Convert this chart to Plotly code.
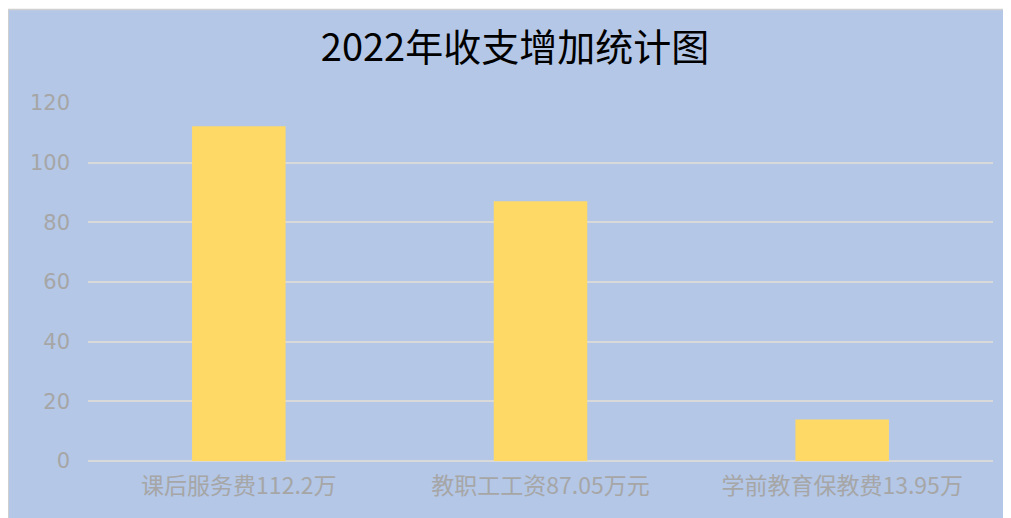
import plotly.graph_objects as go

categories = ["课后服务费112.2万", "教职工工资87.05万元", "学前教育保教费13.95万"]
values = [112.2, 87.05, 13.95]
tick_vals = [0, 20, 40, 60, 80, 100, 120]

W, H = 1003, 510
L, R, T, B = 80, 18, 95, 57
pw, ph = W - L - R, H - T - B

def px(x):
    return (x - L) / pw

def py(y):
    return (H - B - y) / ph

BLUE = "#B4C7E7"
FONT = "Noto Sans CJK SC"

fig = go.Figure(go.Bar(x=categories, y=values, marker=dict(color="#FFD966", line=dict(width=0)),
                       hoverinfo="x+y"))

shapes = [
    dict(type="rect", xref="paper", yref="paper", x0=px(-2), x1=px(W + 2), y0=py(-2), y1=py(1),
         fillcolor="white", line=dict(width=0), layer="above"),
    dict(type="line", xref="paper", yref="paper", x0=px(0), x1=px(W + 2), y0=py(1.6), y1=py(1.6),
         line=dict(color="#D0D0D0", width=1.5), layer="above"),
    dict(type="line", xref="paper", yref="paper", x0=px(0.2), x1=px(0.2), y0=py(1.6), y1=py(H + 2),
         line=dict(color="#D0D0D0", width=1.5), layer="above"),
]

fig.update_layout(
    width=W, height=H,
    margin=dict(l=L, r=R, t=T, b=B),
    paper_bgcolor=BLUE, plot_bgcolor=BLUE,
    title=dict(text="2022年收支增加统计图", x=px(507), xref="paper", xanchor="center",
               y=1 - 40 / H, yref="container", yanchor="middle",
               font=dict(family=FONT, size=38, color="black")),
    bargap=0.69,
    showlegend=False,
    shapes=shapes,
    font=dict(family=FONT),
)
fig.update_yaxes(range=[0, 120], tickvals=tick_vals, showgrid=True, gridcolor="#D9D9D9", gridwidth=1.5,
                 zeroline=True, zerolinecolor="#D9D9D9", zerolinewidth=1.5, showline=False,
                 ticks="", ticklen=0, tickfont=dict(family="DejaVu Sans", size=21, color="#A6A6A6"),
                 ticklabelstandoff=17)
fig.update_xaxes(showgrid=False, showline=False, ticks="",
                 tickfont=dict(family=FONT, size=23, color="#A6A6A6"), ticklabelstandoff=9)

fig.write_html("out.html")
